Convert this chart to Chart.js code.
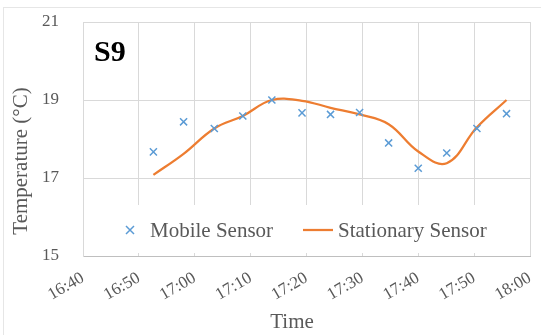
<!DOCTYPE html>
<html>
<head>
<meta charset="utf-8">
<script src="https://cdn.jsdelivr.net/npm/chart.js@4/dist/chart.umd.min.js"></script>
<style>
  body { margin: 0; background: #fff; }
  #wrap { width: 541px; height: 335px; }
</style>
</head>
<body>
<div id="wrap"><canvas id="tempchart" width="541" height="335"></canvas></div>
<script>
// S9 - mobile vs stationary sensor temperatures

const panelName = 'S9'
const xTitle = 'Time'
const yTitle = 'Temperature (°C)'
const seriesNames = ['Mobile Sensor', 'Stationary Sensor']

const sampleTimes = ['16:52:36', '16:58:00', '17:03:30', '17:08:36', '17:13:48', '17:19:12', '17:24:18',
  '17:29:30', '17:34:42', '17:40:00', '17:45:06', '17:50:30', '17:55:48']
const mobileTemps = [17.67, 18.44, 18.27, 18.59, 19.0, 18.67, 18.63, 18.68, 17.9, 17.25, 17.64, 18.27, 18.65]
const stationaryTemps = [17.08, 17.62, 18.27, 18.59, 19.0, 18.98, 18.8, 18.63, 18.38, 17.68, 17.38, 18.3, 19.0]

const xMin = '16:40'
const xMax = '18:00'
const yTicks = [15, 17, 19, 21]

const grey = '#595959'
const serif = "'Liberation Serif', 'Times New Roman', serif"

function toMin(s) {
  const p = s.split(':')
  return parseInt(p[0]) * 60 + parseInt(p[1]) + (p[2] ? parseInt(p[2]) / 60 : 0)
}

function fmtTime(v) {
  const h = Math.floor(v / 60)
  const m = Math.round(v - h * 60)
  return h + ':' + (m < 10 ? '0' + m : m)
}

const mobilePts = sampleTimes.map((t, i) => ({ x: toMin(t), y: mobileTemps[i] }))
const stationPts = sampleTimes.map((t, i) => ({ x: toMin(t), y: stationaryTemps[i] }))

// frame, titles, panel label and the in-plot legend
const decorPlugin = {
  id: 'decor',
  beforeDraw(chart) {
    const ctx = chart.ctx
    ctx.save()
    ctx.strokeStyle = '#e6e6e6'
    ctx.lineWidth = 1
    ctx.strokeRect(3.5, 7.5, 600, 400)
    ctx.restore()
  },
  beforeDatasetsDraw(chart) {
    const ctx = chart.ctx
    const area = chart.chartArea
    ctx.save()
    // legend box covers the grid
    ctx.fillStyle = '#fff'
    ctx.fillRect(area.left + 1, 205, area.right - area.left - 2, 48)

    const ly = 230
    const blue = chart.data.datasets[0].borderColor
    const orange = chart.data.datasets[1].borderColor
    ctx.strokeStyle = blue
    ctx.lineWidth = 1.5
    ctx.beginPath()
    ctx.moveTo(126, ly - 4); ctx.lineTo(134, ly + 4)
    ctx.moveTo(134, ly - 4); ctx.lineTo(126, ly + 4)
    ctx.stroke()
    ctx.strokeStyle = orange
    ctx.lineWidth = 2.25
    ctx.beginPath()
    ctx.moveTo(303, ly); ctx.lineTo(333, ly)
    ctx.stroke()

    ctx.fillStyle = grey
    ctx.font = '21px ' + serif
    ctx.textBaseline = 'middle'
    ctx.textAlign = 'left'
    ctx.fillText(chart.data.datasets[0].label, 150, ly + 1)
    ctx.fillText(chart.data.datasets[1].label, 338, ly + 1)

    // panel label
    ctx.fillStyle = '#000'
    ctx.font = 'bold 30px ' + serif
    ctx.textBaseline = 'alphabetic'
    ctx.fillText(panelName, 94, 61)

    // axis titles
    ctx.fillStyle = grey
    ctx.font = '21px ' + serif
    ctx.textAlign = 'center'
    ctx.textBaseline = 'middle'
    ctx.fillText(xTitle, 292, 322)
    ctx.translate(21.5, 161)
    ctx.rotate(-Math.PI / 2)
    ctx.fillText(yTitle, 0, 0)
    ctx.restore()
  }
}

const ctx = document.getElementById('tempchart').getContext('2d')
const chart = new Chart(ctx, {
  type: 'scatter',
  data: {
    datasets: [{
      label: seriesNames[0],
      data: mobilePts,
      pointStyle: 'crossRot',
      pointRadius: 5,
      pointBorderWidth: 1.5,
      borderColor: '#5b9bd5',
      backgroundColor: '#5b9bd5',
    }, {
      label: seriesNames[1],
      data: stationPts,
      showLine: true,
      pointRadius: 0,
      borderColor: '#ed7d31',
      borderWidth: 2.25,
      tension: 0.4,
      fill: false,
    }]
  },
  plugins: [decorPlugin],
  options: {
    responsive: false,
    devicePixelRatio: 1,
    animation: false,
    layout: { padding: { top: 22, right: 11, left: 0, bottom: 0 } },
    plugins: {
      legend: { display: false },
      tooltip: { enabled: false },
    },
    scales: {
      x: {
        type: 'linear',
        min: toMin(xMin),
        max: toMin(xMax),
        afterFit: (scale) => {
          scale.height = 79
          scale.paddingLeft = 0
          scale.paddingRight = 0
        },
        grid: { color: '#d9d9d9', drawTicks: false },
        border: { color: '#bfbfbf' },
        ticks: {
          stepSize: 10,
          minRotation: 30,
          maxRotation: 30,
          padding: 12,
          color: grey,
          font: { family: serif, size: 17 },
          callback: (v) => fmtTime(v),
        },
      },
      y: {
        min: yTicks[0],
        max: yTicks[yTicks.length - 1],
        afterFit: (scale) => {
          scale.width = 83
          scale.paddingTop = 0
          scale.paddingBottom = 0
        },
        grid: { color: '#d9d9d9', drawTicks: false },
        border: { color: '#d9d9d9' },
        afterBuildTicks: (scale) => { scale.ticks = yTicks.map(v => ({ value: v })) },
        ticks: {
          padding: 24,
          color: grey,
          font: { family: serif, size: 17 },
        },
      },
    },
  },
})
</script>
</body>
</html>
